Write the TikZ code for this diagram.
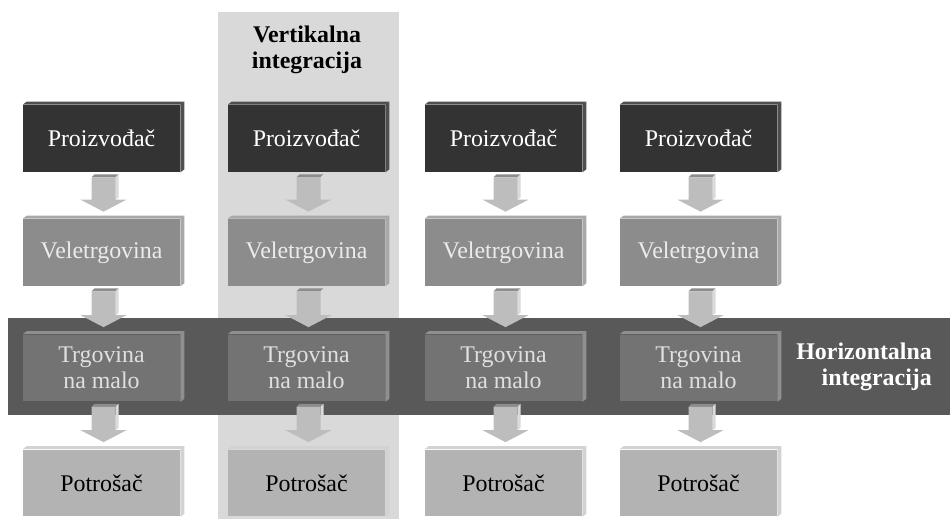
\documentclass[tikz,border=0pt]{standalone}
\usepackage{fontspec}
\setmainfont{Liberation Serif}
\usetikzlibrary{calc,positioning}
\definecolor{bandV}{HTML}{D9D9D9}
\definecolor{bandH}{HTML}{595959}
\definecolor{prodFill}{HTML}{333333}
\definecolor{prodSide}{HTML}{4F4F4F}
\definecolor{wholeFill}{HTML}{8C8C8C}
\definecolor{wholeSide}{HTML}{A8A8A8}
\definecolor{retailFill}{HTML}{737373}
\definecolor{retailSide}{HTML}{8F8F8F}
\definecolor{consFill}{HTML}{B3B3B3}
\definecolor{consSide}{HTML}{D2D2D2}
\definecolor{arrowFill}{HTML}{BDBDBD}
\definecolor{arrowSide}{HTML}{DADADA}
\definecolor{arrowTop}{HTML}{8C8C8C}
\tikzset{
  every node/.style={font=\fontsize{13.6}{15}\selectfont},
  stage/.style={rectangle, inner sep=0pt, minimum width=3.14cm, minimum height=1.34cm, align=center},
  prodbox/.style={stage, fill=prodFill, text=white},
  wholebox/.style={stage, fill=wholeFill, text=white!92!black},
  retailbox/.style={stage, fill=retailFill, text=white!88!black},
  consbox/.style={stage, fill=consFill, text=black},
  bandlabel/.style={font=\fontsize{13.6}{14.5}\selectfont\bfseries},
}
% 3D side faces of a box
\newcommand{\bevel}[2]{%
  \fill[#2] (#1.north west) -- ++(4,-3) -- ($(#1.north east)+(4,-3)$) -- (#1.north east) -- cycle;
  \fill[#2] (#1.north east) -- ++(4,-3) -- ($(#1.south east)+(4,-3)$) -- (#1.south east) -- cycle;
}
% block arrow between two boxes
\newcommand{\flowarrow}[2]{%
  \coordinate (s) at ($(#1.south)+(2,5)$);
  \coordinate (t) at ($(#2.north)+(2,-7)$);
  \fill[arrowTop] ($(s)+(-12,0)$) -- ($(s)+(-9,-3)$) -- ($(s)+(15,-3)$) -- ($(s)+(12,0)$) -- cycle;
  \fill[arrowSide] ($(s)+(12,0)$) -- ($(s)+(15,-3)$) -- ($(t)+(15,-14)$) -- ($(t)+(12,-12)$) -- cycle;
  \fill[arrowFill] ($(s)+(-12,0)$) -- ($(s)+(12,0)$) -- ($(t)+(12,-12)$) -- ($(t)+(23,-12)$)
    -- (t) -- ($(t)+(-23,-12)$) -- ($(t)+(-12,-12)$) -- cycle;
}

\begin{document}
\begin{tikzpicture}[x=0.02cm,y=-0.02cm]
  \useasboundingbox (0,0) rectangle (950,519);

  % integration bands
  \fill[bandV] (218,12) rectangle (399,519);
  \fill[bandH] (8,318) rectangle (950,415);
  \node[bandlabel, align=center] (vlab) at (307,50) {Vertikalna\\integracija};
  \node[bandlabel, align=right, text=white, anchor=east] (hlab) at (938,367) {Horizontalna\\integracija};

  % boxes
  \foreach \i/\x in {1/101.5,2/306.5,3/503.5,4/698.5}{
    \node[prodbox] (p\i) at (\x,138.5) {Proizvođač};
    \node[wholebox] (v\i) at (\x,252.5) {Veletrgovina};
    \node[retailbox] (r\i) at (\x,368) {Trgovina\\na malo};
    \node[consbox] (c\i) at (\x,483) {Potrošač};
    \bevel{p\i}{prodSide}
    \bevel{v\i}{wholeSide}
    \bevel{r\i}{retailSide}
    \bevel{c\i}{consSide}
  }

  % arrows
  \foreach \i in {1,...,4}{
    \flowarrow{p\i}{v\i}
    \flowarrow{v\i}{r\i}
    \flowarrow{r\i}{c\i}
  }
\end{tikzpicture}
\end{document}
